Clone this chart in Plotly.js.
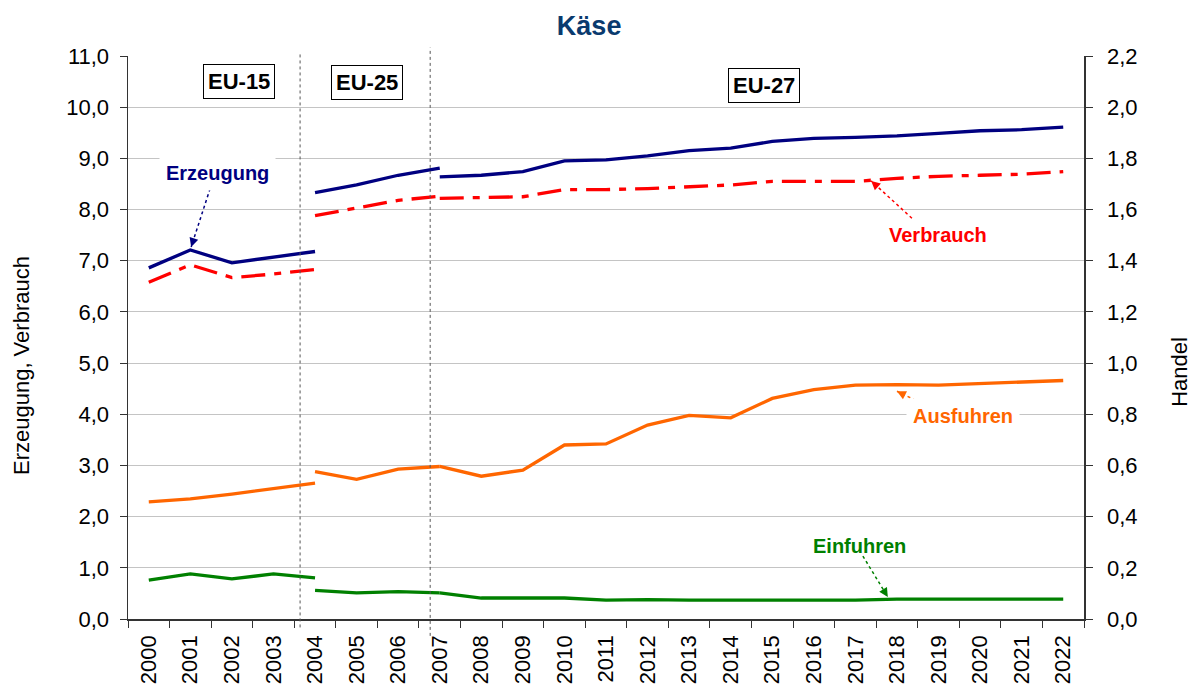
<!DOCTYPE html>
<html>
<head>
<meta charset="utf-8">
<script src="https://cdn.plot.ly/plotly-3.0.1.min.js"></script>
<style>html,body{margin:0;padding:0;background:#fff;}#chart{width:1195px;height:697px;}</style>
</head>
<body>
<div id="chart"></div>
<script>
// Categories
const years = ["2000","2001","2002","2003","2004","2005","2006","2007","2008","2009","2010","2011","2012","2013","2014","2015","2016","2017","2018","2019","2020","2021","2022"];

// EU-15 period (2000-2004)
const yearsEU15 = ["2000","2001","2002","2003","2004"];
const erzeugungEU15 = [6.86, 7.21, 6.96, 7.07, 7.18];
const verbrauchEU15 = [6.58, 6.92, 6.67, 6.74, 6.83];
const ausfuhrenEU15 = [0.458, 0.469, 0.488, 0.511, 0.531];
const einfuhrenEU15 = [0.152, 0.176, 0.157, 0.176, 0.161];

// EU-25 period (2004-2007)
const yearsEU25 = ["2004","2005","2006","2007"];
const erzeugungEU25 = [8.33, 8.48, 8.67, 8.81];
const verbrauchEU25 = [7.88, 8.03, 8.18, 8.26];
const ausfuhrenEU25 = [0.576, 0.546, 0.586, 0.596];
const einfuhrenEU25 = [0.112, 0.102, 0.107, 0.102];

// EU-27 period (2007-2022)
const yearsEU27 = ["2007","2008","2009","2010","2011","2012","2013","2014","2015","2016","2017","2018","2019","2020","2021","2022"];
const erzeugungEU27 = [8.64, 8.67, 8.74, 8.95, 8.97, 9.05, 9.15, 9.20, 9.33, 9.39, 9.41, 9.44, 9.49, 9.54, 9.56, 9.61];
const verbrauchEU27 = [8.22, 8.23, 8.25, 8.39, 8.39, 8.41, 8.45, 8.48, 8.55, 8.55, 8.55, 8.61, 8.65, 8.67, 8.69, 8.74];
const ausfuhrenEU27 = [0.596, 0.558, 0.582, 0.680, 0.684, 0.758, 0.796, 0.786, 0.862, 0.896, 0.914, 0.916, 0.914, 0.920, 0.926, 0.932];
const einfuhrenEU27 = [0.102, 0.082, 0.082, 0.082, 0.074, 0.076, 0.074, 0.074, 0.074, 0.074, 0.074, 0.078, 0.078, 0.078, 0.078, 0.078];

const NAVY = "#000080", RED = "#FF0000", ORANGE = "#FF6600", GREEN = "#008000";
const VDASH = "24px,9px,7px,9px";

function seg(x, y, color, dash, axis) {
  return {x: x, y: y, type: "scatter", mode: "lines", yaxis: axis, showlegend: false, hoverinfo: "skip",
          line: {color: color, width: 3.3, dash: dash || "solid"}};
}

const data = [
  seg(yearsEU15, ausfuhrenEU15, ORANGE, null, "y2"),
  seg(yearsEU25, ausfuhrenEU25, ORANGE, null, "y2"),
  seg(yearsEU27, ausfuhrenEU27, ORANGE, null, "y2"),
  seg(yearsEU15, einfuhrenEU15, GREEN, null, "y2"),
  seg(yearsEU25, einfuhrenEU25, GREEN, null, "y2"),
  seg(yearsEU27, einfuhrenEU27, GREEN, null, "y2"),
  seg(yearsEU15, verbrauchEU15, RED, VDASH, "y"),
  seg(yearsEU25, verbrauchEU25, RED, VDASH, "y"),
  seg(yearsEU27, verbrauchEU27, RED, VDASH, "y"),
  seg(yearsEU15, erzeugungEU15, NAVY, null, "y"),
  seg(yearsEU25, erzeugungEU25, NAVY, null, "y"),
  seg(yearsEU27, erzeugungEU27, NAVY, null, "y")
];

const FONT = "Liberation Sans, Arial, sans-serif";

function label(text, x, y, color, bg) {
  return {text: "<b>" + text + "</b>", x: x, y: y, xref: "x", yref: "y", showarrow: false,
          font: {family: FONT, size: 20, color: color}, bgcolor: bg ? "#ffffff" : "rgba(0,0,0,0)", borderpad: bg ? 6 : 0};
}
function head(x, y, ax, ay, color) {
  return {text: "", x: x, y: y, xref: "x", yref: "y", showarrow: true, ax: ax, ay: ay,
          arrowhead: 2, arrowsize: 1.2, arrowwidth: 1.5, arrowcolor: color, standoff: 0};
}
function box(text, x, y) {
  return {text: "<b>" + text + "</b>", x: x, y: y, xref: "x", yref: "y", showarrow: false,
          font: {family: FONT, size: 22, color: "#000"}, bgcolor: "#fff", bordercolor: "#000", borderwidth: 1, borderpad: 4};
}
function dotted(x0, y0, x1, y1, color) {
  return {type: "line", xref: "x", yref: "y", x0: x0, y0: y0, x1: x1, y1: y1, line: {color: color, width: 1.5, dash: "dot"}};
}

const layout = {
  width: 1195, height: 697,
  margin: {l: 128, r: 111, t: 56, b: 78},
  paper_bgcolor: "#fff", plot_bgcolor: "#fff",
  separators: ",.",
  font: {family: FONT, size: 22, color: "#000"},
  title: {text: "<b>Käse</b>", font: {family: FONT, size: 27, color: "#0A3A6E"},
          x: 0.493, xref: "container", xanchor: "center", y: 0.964, yref: "container", yanchor: "middle"},
  xaxis: {type: "category", categoryorder: "array", categoryarray: years, range: [-0.5, 22.5],
          tickson: "boundaries", ticks: "outside", ticklen: 7, tickcolor: "#333", tickwidth: 1,
          tickangle: -90, tickfont: {family: FONT, size: 22, color: "#000"}, ticklabelstandoff: 6,
          showline: true, linecolor: "#333", linewidth: 1.5, showgrid: false, zeroline: false, fixedrange: true},
  yaxis: {range: [0, 11], dtick: 1, tick0: 0, tickformat: ".1f", ticks: "outside", ticklen: 7, tickcolor: "#333",
          tickfont: {family: FONT, size: 22, color: "#000"}, ticklabelstandoff: 6,
          showline: true, linecolor: "#333", linewidth: 1.5, showgrid: true, gridcolor: "#c4c4c4", gridwidth: 1,
          zeroline: false, title: {text: ""}},
  yaxis2: {range: [0, 2.2], dtick: 0.2, tick0: 0, tickformat: ".1f", overlaying: "y", side: "right", anchor: "x",
           ticks: "outside", ticklen: 7, tickcolor: "#333", tickfont: {family: FONT, size: 22, color: "#000"},
           ticklabelstandoff: 10, showline: true, linecolor: "#333", linewidth: 1.5, showgrid: false, zeroline: false,
           title: {text: ""}},
  shapes: [
    {type: "line", xref: "x", yref: "paper", x0: 3.64, x1: 3.64, y0: -0.015, y1: 1.008, line: {color: "#555", width: 1, dash: "dot"}},
    {type: "line", xref: "x", yref: "paper", x0: 6.77, x1: 6.77, y0: -0.03, y1: 1.015, line: {color: "#555", width: 1, dash: "dot"}},
    dotted(1.52, 8.52, 1.02, 7.27, NAVY),
    dotted(18.36, 7.83, 17.38, 8.56, RED),
    dotted(18.58, 4.22, 18.0, 4.45, ORANGE),
    dotted(17.18, 1.23, 17.78, 0.43, GREEN)
  ],
  annotations: [
    {text: "Erzeugung, Verbrauch", xref: "paper", yref: "paper", x: -0.112, y: 0.451, textangle: -90,
     showarrow: false, xanchor: "center", yanchor: "middle", font: {family: FONT, size: 22, color: "#000"}},
    {text: "Handel", xref: "paper", yref: "paper", x: 1.1004, y: 0.439, textangle: -90,
     showarrow: false, xanchor: "center", yanchor: "middle", font: {family: FONT, size: 22, color: "#000"}},
    box("EU-15", 2.17, 10.51),
    box("EU-25", 5.25, 10.49),
    box("EU-27", 14.8, 10.43),
    label("Erzeugung", 1.66, 8.71, NAVY, true),
    label("Verbrauch", 18.99, 7.50, RED, false),
    label("Ausfuhren", 19.59, 3.97, ORANGE, true),
    label("Einfuhren", 17.11, 1.43, GREEN, false),
    head(1.02, 7.27, 3, -9.5, NAVY),
    head(17.38, 8.56, 7.4, 6.7, RED),
    head(18.0, 4.45, 8.9, 4.5, ORANGE),
    head(17.78, 0.43, -5.2, -8.5, GREEN)
  ]
};

Plotly.newPlot("chart", data, layout, {staticPlot: true, displayModeBar: false});
</script>
</body>
</html>
